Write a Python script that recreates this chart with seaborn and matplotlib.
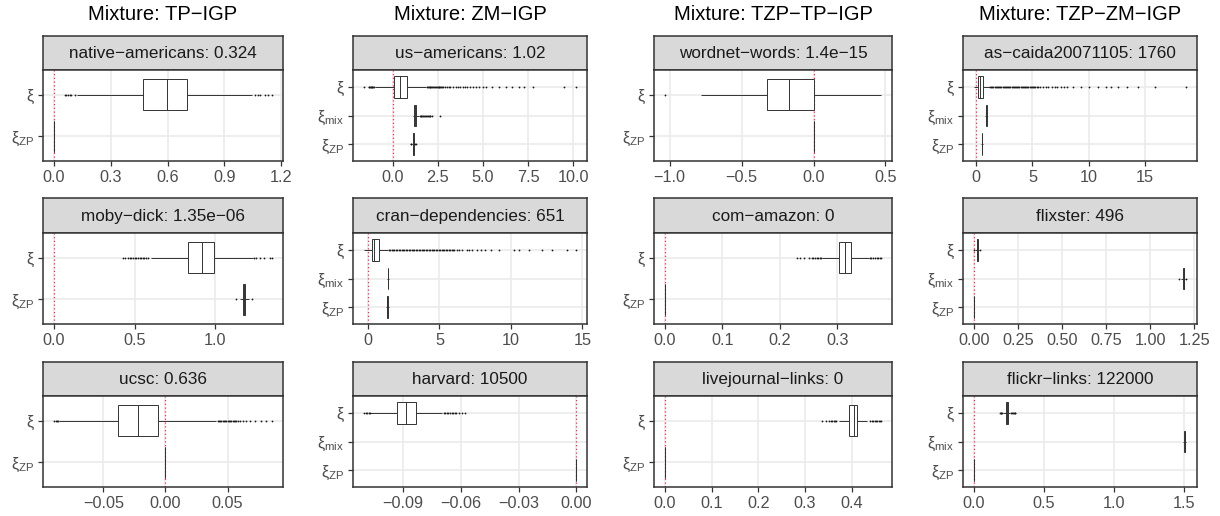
import numpy as np
import pandas as pd
import matplotlib
matplotlib.use("Agg")
import matplotlib.pyplot as plt
import seaborn as sns

sns.set_style("white")
plt.rcParams["font.family"] = ["Liberation Sans", "DejaVu Sans"]
plt.rcParams["mathtext.fontset"] = "custom"
plt.rcParams["mathtext.rm"] = "Liberation Sans"
plt.rcParams["mathtext.it"] = "Liberation Sans:italic"

# ---------------------------------------------------------------------------
# Box summaries per dataset: [whisker low, Q1, median, Q3, whisker high],
# then outliers below and above the whiskers.
# ---------------------------------------------------------------------------
COLUMN_TITLES = ["Mixture: TP\u2212IGP", "Mixture: ZM\u2212IGP",
                 "Mixture: TZP\u2212TP\u2212IGP", "Mixture: TZP\u2212ZM\u2212IGP"]

STRIP_LABELS = [
    ["native\u2212americans: 0.324", "us\u2212americans: 1.02",
     "wordnet\u2212words: 1.4e\u221215", "as\u2212caida20071105: 1760"],
    ["moby\u2212dick: 1.35e\u221206", "cran\u2212dependencies: 651",
     "com\u2212amazon: 0", "flixster: 496"],
    ["ucsc: 0.636", "harvard: 10500", "livejournal\u2212links: 0",
     "flickr\u2212links: 122000"],
]

native_americans = {
    "xi": ([0.122, 0.471, 0.595, 0.704, 1.048],
           [0.056, 0.066, 0.074, 0.084, 0.092, 0.110],
           [1.062, 1.075, 1.089, 1.115, 1.130, 1.152]),
    "zp": ([0.0, 0.0, 0.0, 0.0, 0.0], [], []),
}
us_americans = {
    "xi": ([-0.98, 0.074, 0.42, 0.79, 1.85],
           [-1.60, -1.32, -1.28, -1.25, -1.21, -1.18, -1.15, -1.12, -1.08,
            -1.04],
           [1.90, 1.95, 2.00, 2.05, 2.10, 2.15, 2.20, 2.25, 2.30, 2.35, 2.40,
            2.45, 2.50, 2.55, 2.60, 2.65, 2.70, 2.75, 2.80, 2.90, 3.00, 3.10,
            3.20, 3.35, 3.50, 3.60, 3.75, 3.90, 4.00, 4.15, 4.30, 4.45, 4.60,
            4.80, 5.00, 5.20, 5.50, 5.90, 6.30, 6.60, 7.00, 7.30, 7.80, 9.50,
            10.18]),
    "mix": ([1.12, 1.18, 1.25, 1.30, 1.45], [],
            [1.50, 1.55, 1.60, 1.65, 1.70, 1.75, 1.80, 1.85, 1.90, 1.95, 2.00,
             2.05, 2.10, 2.17, 2.63]),
    "zp": ([1.08, 1.13, 1.15, 1.17, 1.22], [1.00, 1.03], [1.27, 1.32]),
}
wordnet_words = {
    "xi": ([-0.78, -0.327, -0.169, 0.0, 0.47], [-1.034], []),
    "zp": ([0.0, 0.0, 0.0, 0.0, 0.0], [], []),
}
as_caida = {
    "xi": ([-0.21, 0.21, 0.36, 0.62, 1.20], [],
           [1.25, 1.35, 1.45, 1.55, 1.65, 1.75, 1.85, 1.95, 2.05, 2.15, 2.25,
            2.35, 2.45, 2.55, 2.65, 2.75, 2.85, 2.95, 3.05, 3.15, 3.25, 3.35,
            3.45, 3.55, 3.65, 3.75, 3.85, 3.95, 4.05, 4.15, 4.25, 4.35, 4.45,
            4.55, 4.65, 4.75, 4.85, 4.95, 5.05, 5.15, 5.25, 5.40, 5.50,
            5.70, 5.90, 6.20, 6.40, 6.70, 7.00, 7.20, 7.50, 7.80, 8.10, 8.60,
            9.30, 10.0, 10.8, 11.5, 12.0, 12.6, 13.4, 14.4, 15.9, 18.65]),
    "mix": ([0.84, 0.89, 0.92, 0.95, 1.01], [], []),
    "zp": ([0.48, 0.51, 0.53, 0.55, 0.58], [], []),
}
moby_dick = {
    "xi": ([0.60, 0.832, 0.915, 0.994, 1.23],
           [0.428, 0.44, 0.46, 0.47, 0.48, 0.49, 0.50, 0.51, 0.52, 0.53,
            0.54, 0.55, 0.56, 0.57, 0.58],
           [1.24, 1.25, 1.275, 1.30, 1.335, 1.351]),
    "zp": ([1.15, 1.17, 1.178, 1.185, 1.205], [1.128], [1.226]),
}
cran_dependencies = {
    "xi": ([-0.30, 0.28, 0.44, 0.74, 1.40], [],
           [1.45, 1.55, 1.65, 1.75, 1.85, 1.95, 2.05, 2.15, 2.25, 2.35, 2.45,
            2.55, 2.65, 2.75, 2.85, 2.95, 3.05, 3.15, 3.25, 3.35, 3.45, 3.55,
            3.65, 3.75, 3.85, 3.95, 4.05, 4.15, 4.25, 4.35, 4.45, 4.55, 4.65,
            4.75, 4.85, 4.95, 5.05, 5.15, 5.25, 5.35, 5.45, 5.55, 5.65, 5.75,
            5.85, 5.95, 6.05, 6.20, 6.40, 6.60, 6.90, 7.10, 7.30, 7.60, 7.90,
            8.20, 8.60, 9.20, 10.2, 10.6, 11.3, 12.2, 12.9, 13.9, 14.58]),
    "mix": ([1.30, 1.37, 1.40, 1.43, 1.50], [], []),
    "zp": ([1.26, 1.32, 1.35, 1.38, 1.45], [], []),
}
com_amazon = {
    "xi": ([0.2735, 0.3035, 0.3134, 0.3238, 0.354],
           [0.229, 0.235, 0.242, 0.250, 0.255, 0.258, 0.261, 0.264, 0.267,
            0.270, 0.272],
           [0.356, 0.359, 0.362, 0.365, 0.368, 0.371, 0.374, 0.376]),
    "zp": ([0.0, 0.0, 0.0, 0.0, 0.0], [], []),
}
flixster = {
    "xi": ([0.009, 0.017, 0.020, 0.023, 0.031], [0.001], [0.034]),
    "mix": ([1.176, 1.185, 1.189, 1.192, 1.200], [1.165], [1.205]),
    "zp": ([0.0, 0.0, 0.0, 0.0, 0.0], [], []),
}
ucsc = {
    "xi": ([-0.0855, -0.0381, -0.0224, -0.0062, 0.0405],
           [-0.0898, -0.0885, -0.0875, -0.0865],
           [0.042, 0.043, 0.044, 0.045, 0.046, 0.047, 0.048, 0.049, 0.050,
            0.051, 0.052, 0.053, 0.054, 0.055, 0.056, 0.057, 0.058,
            0.060, 0.062, 0.065, 0.068, 0.072, 0.077, 0.081, 0.0858]),
    "zp": ([0.0, 0.0, 0.0, 0.0, 0.0], [], []),
}
harvard = {
    "xi": ([-0.1070, -0.0929, -0.0883, -0.0834, -0.0695],
           [-0.1104, -0.1092, -0.1085, -0.1078, -0.1073],
           [-0.0688, -0.0680, -0.0672, -0.0664, -0.0656, -0.0648, -0.0640,
            -0.0632, -0.0625, -0.0608, -0.0595, -0.0578]),
    "zp": ([0.0, 0.0, 0.0, 0.0, 0.0], [], []),
}
livejournal_links = {
    "xi": ([0.372, 0.395, 0.405, 0.412, 0.432],
           [0.337, 0.345, 0.352, 0.355, 0.358, 0.361, 0.364, 0.367],
           [0.440, 0.443, 0.446, 0.449, 0.452, 0.455, 0.458, 0.461, 0.463]),
    "zp": ([0.0, 0.0, 0.0, 0.0, 0.0], [], []),
}
flickr_links = {
    "xi": ([0.210, 0.229, 0.236, 0.243, 0.262],
           [0.186, 0.192, 0.198, 0.204],
           [0.268, 0.274, 0.280, 0.286, 0.292, 0.298]),
    "mix": ([1.497, 1.503, 1.507, 1.511, 1.519], [], []),
    "zp": ([0.0, 0.0, 0.0, 0.0, 0.0], [], []),
}

PANELS = [
    [native_americans, us_americans, wordnet_words, as_caida],
    [moby_dick, cran_dependencies, com_amazon, flixster],
    [ucsc, harvard, livejournal_links, flickr_links],
]

# Category order per column (mixtures with a ZM part also report xi_mix)
COLUMN_LEVELS = [["xi", "zp"], ["xi", "mix", "zp"],
                 ["xi", "zp"], ["xi", "mix", "zp"]]
LEVEL_LABELS = {"xi": "\u03be", "mix": "\u03be$_{\\mathrm{mix}}$",
                "zp": "\u03be$_{\\mathrm{ZP}}$"}

XTICKS = [
    [[0.0, 0.3, 0.6, 0.9, 1.2], [0.0, 2.5, 5.0, 7.5, 10.0],
     [-1.0, -0.5, 0.0, 0.5], [0, 5, 10, 15]],
    [[0.0, 0.5, 1.0], [0, 5, 10, 15], [0.0, 0.1, 0.2, 0.3],
     [0.0, 0.25, 0.5, 0.75, 1.0, 1.25]],
    [[-0.05, 0.0, 0.05], [-0.09, -0.06, -0.03, 0.0],
     [0.0, 0.1, 0.2, 0.3, 0.4], [0.0, 0.5, 1.0, 1.5]],
]
XTICKLABELS = [
    [["0.0", "0.3", "0.6", "0.9", "1.2"], ["0.0", "2.5", "5.0", "7.5", "10.0"],
     ["\u22121.0", "\u22120.5", "0.0", "0.5"], ["0", "5", "10", "15"]],
    [["0.0", "0.5", "1.0"], ["0", "5", "10", "15"], ["0.0", "0.1", "0.2", "0.3"],
     ["0.00", "0.25", "0.50", "0.75", "1.00", "1.25"]],
    [["\u22120.05", "0.00", "0.05"],
     ["\u22120.09", "\u22120.06", "\u22120.03", "0.00"],
     ["0.0", "0.1", "0.2", "0.3", "0.4"], ["0.0", "0.5", "1.0", "1.5"]],
]


def expand(summary, low_out, high_out):
    """Turn a five-number summary plus outliers into a sample whose
    boxplot statistics reproduce exactly those numbers."""
    lo, q1, med, q3, hi = summary
    n_lo, n_hi = len(low_out), len(high_out)
    m = abs(n_hi - n_lo) + 3
    b = 2 * (n_lo + n_hi + m) + 4
    sample = (list(low_out) + [lo] + [q1] * b + [med] * m + [q3] * b
              + [hi] + list(high_out))
    qs = np.percentile(sample, [25, 50, 75])
    assert np.allclose(qs, [q1, med, q3])
    return sample


def panel_frame(panel):
    rows = []
    for level, (summary, low_out, high_out) in panel.items():
        for v in expand(summary, low_out, high_out):
            rows.append((level, v))
    return pd.DataFrame(rows, columns=["param", "value"])


# ---------------------------------------------------------------------------
# Layout (pixel boxes for strips and panels)
# ---------------------------------------------------------------------------
W, H = 1220, 516
fig = plt.figure(figsize=(W / 100, H / 100), dpi=100)

col_x = [(43, 283), (353, 587), (654, 892), (963, 1197)]
row_y = [(36, 70, 161), (198, 233, 324), (362, 396, 487)]

EDGE = "#333333"
GRID = "#EBEBEB"


def add_px_axes(x0, x1, ytop, ybot):
    return fig.add_axes([x0 / W, 1 - ybot / H, (x1 - x0) / W, (ybot - ytop) / H])


for c, title in enumerate(COLUMN_TITLES):
    x0, x1 = col_x[c]
    fig.text((x0 + x1) / 2 / W, 1 - 14 / H, title, ha="center", va="center",
             fontsize=14.5, color="black")

for r in range(3):
    s_top, p_top, p_bot = row_y[r]
    for c in range(4):
        x0, x1 = col_x[c]
        panel = PANELS[r][c]
        levels = COLUMN_LEVELS[c]

        # strip
        sax = add_px_axes(x0, x1, s_top, p_top)
        sax.set_facecolor("#D9D9D9")
        sax.set_xticks([])
        sax.set_yticks([])
        for sp in sax.spines.values():
            sp.set_color(EDGE)
            sp.set_linewidth(1.1)
        sax.text(0.5, 0.48, STRIP_LABELS[r][c], transform=sax.transAxes,
                 ha="center", va="center", fontsize=12.3, color="#1A1A1A")

        # panel
        ax = add_px_axes(x0, x1, p_top, p_bot)
        df = panel_frame(panel)
        sns.boxplot(data=df, x="value", y="param", order=levels, orient="h",
                    width=0.75, color="white", saturation=1,
                    linecolor=EDGE, linewidth=0.7, fliersize=1.3,
                    showcaps=False,
                    flierprops=dict(marker="o", markerfacecolor="#1A1A1A",
                                    markeredgecolor="none"),
                    ax=ax, zorder=3)
        ax.axvline(0, color="#FF2A55", linestyle=(0, (1, 2)), linewidth=0.9,
                   zorder=2.5)

        vals = df["value"].to_numpy()
        lo = min(vals.min(), 0.0)
        hi = max(vals.max(), 0.0)
        pad = 0.05 * (hi - lo)
        ax.set_xlim(lo - pad, hi + pad)
        ax.set_ylim(len(levels) - 1 + 0.6, -0.6)

        ax.set_xticks(XTICKS[r][c])
        ax.set_xticklabels(XTICKLABELS[r][c])
        ax.set_yticks(range(len(levels)))
        ax.set_yticklabels([LEVEL_LABELS[l] for l in levels])
        ax.set_xlabel("")
        ax.set_ylabel("")
        ax.set_axisbelow(True)
        ax.grid(True, color=GRID, linewidth=1.2, zorder=0)
        ax.set_facecolor("white")
        for sp in ax.spines.values():
            sp.set_color(EDGE)
            sp.set_linewidth(1.1)
            sp.set_zorder(5)
        ax.tick_params(axis="both", length=3.5, width=0.9, color=EDGE,
                       labelcolor="#4D4D4D", labelsize=11.7, pad=3,
                       bottom=True, left=True)

fig.savefig("out.png", dpi=100)
